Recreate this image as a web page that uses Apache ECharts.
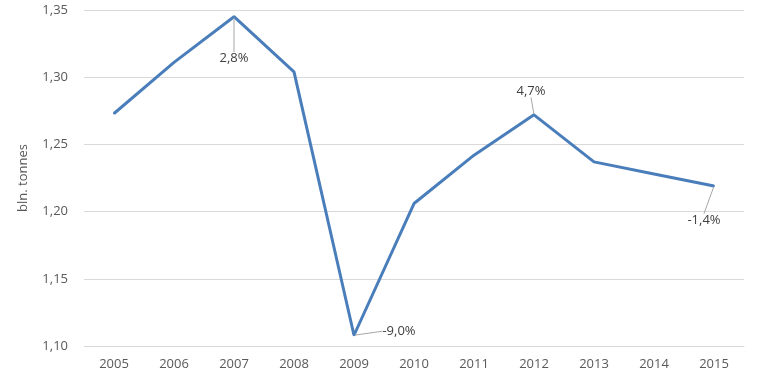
<!DOCTYPE html>
<html><head><meta charset="utf-8">
<script src="https://cdn.jsdelivr.net/npm/echarts@6/dist/echarts.min.js"></script>
<style>html,body{margin:0;padding:0;background:#fff}#c{width:763px;height:382px}</style>
</head><body><div id="c"></div>
<script>
var years = ['2005','2006','2007','2008','2009','2010','2011','2012','2013','2014','2015'];
var values = [1.273, 1.311, 1.345, 1.304, 1.108, 1.206, 1.242, 1.272, 1.237, 1.228, 1.219];
var changeLabels = ['', '', '2,8%', '', '-9,0%', '', '', '4,7%', '', '', '-1,4%'];
var yTicks = {min: 1.10, max: 1.35, interval: 0.05};
var labelPlace = [null, null, [0, 42], null, [45, -4], null, null, [-3, -24], null, null, [-10, 34]];

var font = 'Open Sans';
var data = values.map(function (v, i) {
  var item = {value: v};
  if (changeLabels[i]) {
    item.label = {show: true, formatter: changeLabels[i], position: 'inside',
      color: '#404040', fontSize: 13, fontFamily: font};
    item.labelLine = {show: true, lineStyle: {color: '#a6a6a6', width: 1}};
  }
  return item;
});

var chart = echarts.init(document.getElementById('c'));
chart.setOption({
  animation: false,
  grid: {left: 84, right: 19, top: 10, bottom: 36},
  xAxis: {
    type: 'category', data: years, boundaryGap: true,
    axisLine: {show: true, lineStyle: {color: '#d9d9d9'}},
    axisTick: {show: false},
    axisLabel: {color: '#595959', fontSize: 13, fontFamily: font, margin: 12}
  },
  yAxis: {
    type: 'value', min: yTicks.min, max: yTicks.max, interval: yTicks.interval,
    name: 'bln. tonnes', nameLocation: 'middle', nameGap: 54, nameRotate: 90,
    nameTextStyle: {color: '#595959', fontSize: 13, fontFamily: font},
    axisLine: {show: false}, axisTick: {show: false},
    splitLine: {lineStyle: {color: '#d9d9d9'}},
    axisLabel: {color: '#595959', fontSize: 13, fontFamily: font, margin: 16,
      formatter: function (v) { return v.toFixed(2).replace('.', ','); }}
  },
  series: [{
    type: 'line', data: data,
    symbol: 'circle', symbolSize: 2, showSymbol: true,
    itemStyle: {color: '#4a7ebb'},
    lineStyle: {color: '#4a7ebb', width: 3},
    labelLayout: function (p) {
      var o = labelPlace[p.dataIndex] || [0, 0];
      return {dx: o[0], dy: o[1], moveOverlap: false, hideOverlap: false};
    }
  }]
});
</script></body></html>
